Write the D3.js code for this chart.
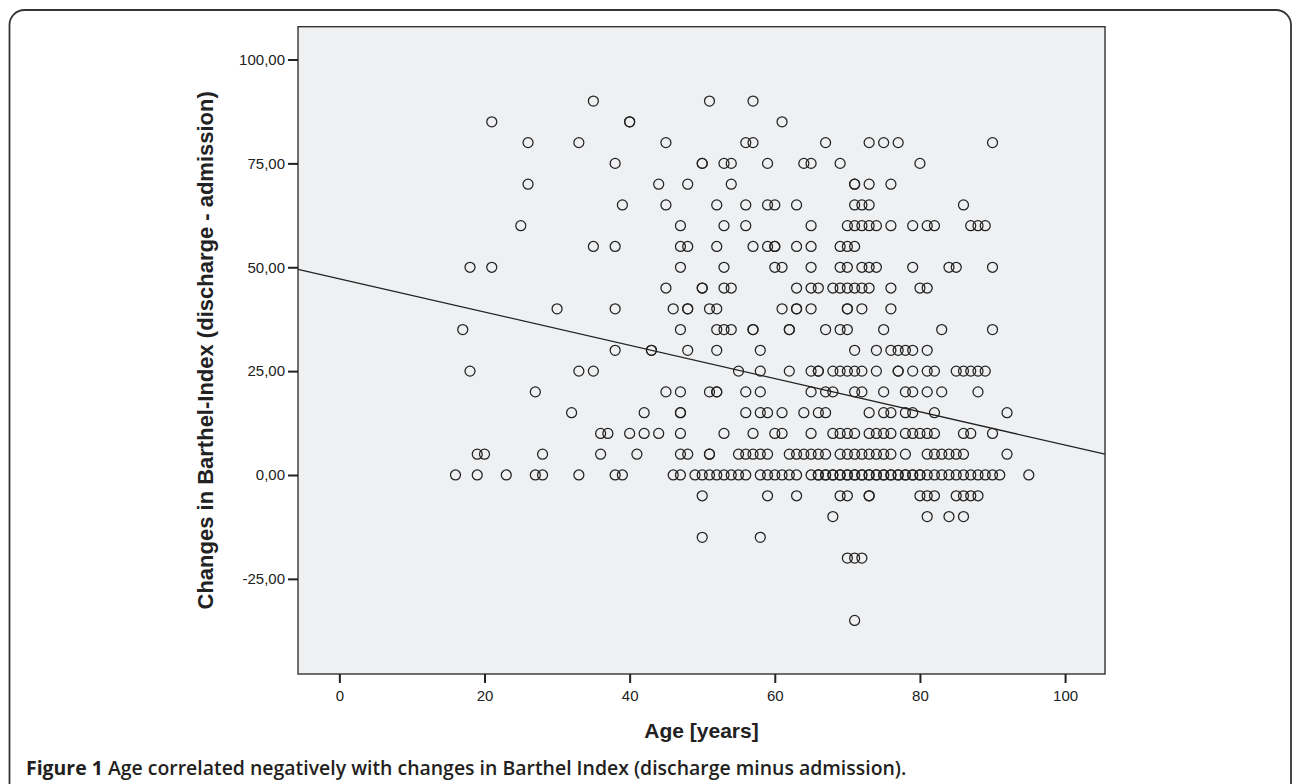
<!DOCTYPE html>
<html><head><meta charset="utf-8">
<script src="https://cdn.jsdelivr.net/npm/d3@7"></script>
<style>html,body{margin:0;padding:0;background:#fff;} svg{display:block}</style>
</head><body>
<svg id="chart" width="1292" height="784"></svg>
<script>
// ---------- data ----------
const xTicks = [0, 20, 40, 60, 80, 100];
const yTicks = [-25, 0, 25, 50, 75, 100];
const xDomain = [-5.7, 105.5];
const yDomain = [-47.9, 107.9];
// fitted regression line, read at the two plot edges
const fitAges = [-5.7, 105.5];
const fitChanges = [49.5, 5.0];

// ages of patients at each change level (duplicates = overlapping cases)
const agesChange90 = [35, 51, 57];
const agesChange85 = [21, 40, 40, 61];
const agesChange80 = [26, 33, 45, 56, 57, 67, 73, 75, 77, 90];
const agesChange75 = [38, 50, 50, 53, 54, 59, 64, 65, 69, 80];
const agesChange70 = [26, 44, 48, 54, 71, 71, 73, 76];
const agesChange65 = [39, 45, 52, 56, 59, 60, 63, 71, 72, 73, 86];
const agesChange60 = [25, 47, 53, 56, 65, 70, 71, 72, 73, 74, 76, 79, 81, 82, 87, 88, 89];
const agesChange55 = [35, 38, 47, 48, 52, 57, 59, 60, 60, 63, 65, 69, 70, 71];
const agesChange50 = [18, 21, 47, 53, 60, 61, 65, 69, 70, 72, 73, 74, 79, 84, 85, 90];
const agesChange45 = [45, 50, 50, 53, 54, 63, 65, 66, 68, 69, 70, 71, 72, 73, 76, 80, 81];
const agesChange40 = [30, 38, 46, 48, 48, 51, 52, 61, 63, 63, 65, 70, 70, 72, 76];
const agesChange35 = [17, 47, 52, 53, 54, 57, 57, 62, 62, 67, 69, 70, 75, 83, 90];
const agesChange30 = [38, 43, 43, 48, 52, 58, 71, 74, 76, 77, 78, 79, 81];
const agesChange25 = [18, 33, 35, 55, 58, 62, 65, 66, 66, 68, 69, 70, 71, 72, 74, 77, 77, 79, 81, 82, 85, 86, 87, 88, 89];
const agesChange20 = [27, 45, 47, 51, 52, 52, 56, 58, 65, 67, 68, 71, 72, 75, 78, 79, 81, 83, 88];
const agesChange15 = [32, 42, 47, 47, 56, 58, 59, 61, 64, 66, 67, 73, 75, 76, 78, 79, 82, 92];
const agesChange10 = [36, 37, 40, 42, 44, 47, 53, 57, 60, 61, 65, 68, 69, 70, 71, 73, 74, 75, 76, 78, 79, 80, 81, 82, 86, 87, 90];
const agesChange5 = [19, 20, 28, 36, 41, 47, 48, 51, 51, 55, 56, 57, 58, 59, 62, 63, 64, 65, 66, 67, 69, 70, 71, 72, 73, 74, 75, 76, 78, 81, 82, 83, 84, 85, 86, 92];
const agesChange0 = [16, 19, 23, 27, 28, 33, 38, 39, 46, 47, 49, 50, 51, 52, 53, 54, 55, 56, 58, 59, 60, 61, 62, 63,
  65, 66, 66, 67, 67, 68, 68, 69, 69, 70, 70, 71, 71, 72, 72, 73, 73, 74, 74, 75, 75, 76, 76, 77, 77, 78, 78, 79, 79, 80, 80,
  81, 82, 83, 84, 85, 86, 87, 88, 89, 90, 91, 95];
const agesChangeM5 = [50, 59, 63, 69, 70, 73, 73, 80, 81, 82, 85, 86, 87, 88];
const agesChangeM10 = [68, 81, 84, 86];
const agesChangeM15 = [50, 58];
const agesChangeM20 = [70, 71, 72];
const agesChangeM35 = [71];

const changeLevels = [90, 85, 80, 75, 70, 65, 60, 55, 50, 45, 40, 35, 30, 25, 20, 15, 10, 5, 0, -5, -10, -15, -20, -35];
const agesByLevel = [agesChange90, agesChange85, agesChange80, agesChange75, agesChange70, agesChange65, agesChange60,
  agesChange55, agesChange50, agesChange45, agesChange40, agesChange35, agesChange30, agesChange25, agesChange20,
  agesChange15, agesChange10, agesChange5, agesChange0, agesChangeM5, agesChangeM10, agesChangeM15, agesChangeM20, agesChangeM35];

const points = [];
changeLevels.forEach((c, i) => agesByLevel[i].forEach(a => points.push({age: a, change: c})));

// ---------- layout ----------
const svg = d3.select('#chart');
const plot = {left: 298, right: 1105, top: 26.7, bottom: 674};
const ink = '#222';

const x = d3.scaleLinear().domain(xDomain).range([plot.left, plot.right]);
const y = d3.scaleLinear().domain(yDomain).range([plot.bottom, plot.top]);

const loc = d3.formatLocale({decimal: ',', thousands: '.', grouping: [3], currency: ['', ''], minus: '-'});
const yFmt = loc.format('.2f');

// outer frame with rounded top corners
svg.append('path')
  .attr('d', 'M9.5,800 L9.5,25 A15,15 0 0 1 24.5,10 L1276,10 A15,15 0 0 1 1291,25 L1291,800')
  .attr('fill', 'none').attr('stroke', '#333').attr('stroke-width', 1.8);

// plot background
svg.append('rect')
  .attr('x', plot.left).attr('y', plot.top)
  .attr('width', plot.right - plot.left).attr('height', plot.bottom - plot.top)
  .attr('fill', '#eff0f2');

// points
svg.append('g').selectAll('circle').data(points).join('circle')
  .attr('cx', d => x(d.age)).attr('cy', d => y(d.change))
  .attr('r', 5).attr('fill', 'none').attr('stroke', ink).attr('stroke-width', 1.25);

// regression line
svg.append('line')
  .attr('x1', x(fitAges[0])).attr('y1', y(fitChanges[0]))
  .attr('x2', x(fitAges[1])).attr('y2', y(fitChanges[1]))
  .attr('stroke', ink).attr('stroke-width', 1.3);

// frame
svg.append('rect')
  .attr('x', plot.left).attr('y', plot.top)
  .attr('width', plot.right - plot.left).attr('height', plot.bottom - plot.top)
  .attr('fill', 'none').attr('stroke', '#333').attr('stroke-width', 1.4);

// axes
const yAxis = svg.append('g').attr('transform', `translate(${plot.left},0)`)
  .call(d3.axisLeft(y).tickValues(yTicks).tickSize(10).tickPadding(3).tickFormat(yFmt));
const xAxis = svg.append('g').attr('transform', `translate(0,${plot.bottom})`)
  .call(d3.axisBottom(x).tickValues(xTicks).tickSize(9).tickPadding(7).tickFormat(d3.format('d')));
[yAxis, xAxis].forEach(g => {
  g.select('.domain').remove();
  g.selectAll('.tick line').attr('stroke', ink).attr('stroke-width', 2);
  g.selectAll('.tick text').attr('fill', ink)
    .style('font-family', '"Liberation Sans", Arial, sans-serif').style('font-size', '15px');
});

// axis titles
svg.append('text')
  .attr('transform', `translate(213,${(plot.top + plot.bottom) / 2}) rotate(-90)`)
  .attr('text-anchor', 'middle').attr('fill', ink)
  .style('font-family', '"Liberation Sans", Arial, sans-serif').style('font-weight', 'bold').style('font-size', '22px')
  .text('Changes in Barthel-Index (discharge - admission)');

svg.append('text')
  .attr('x', (plot.left + plot.right) / 2).attr('y', 738)
  .attr('text-anchor', 'middle').attr('fill', ink)
  .style('font-family', '"Liberation Sans", Arial, sans-serif').style('font-weight', 'bold').style('font-size', '21px')
  .text('Age [years]');

// caption
const cap = svg.append('text').attr('x', 26).attr('y', 775).attr('fill', '#231f20')
  .style('font-family', '"Open Sans", "Noto Sans", sans-serif').style('font-size', '17px');
cap.append('tspan').style('font-weight', 700).text('Figure 1');
cap.append('tspan').style('font-weight', 600).text(' Age correlated negatively with changes in Barthel Index (discharge minus admission).');
const w = cap.node().getComputedTextLength();
cap.style('font-size', (17 * 881 / w).toFixed(2) + 'px');
</script>
</body></html>
